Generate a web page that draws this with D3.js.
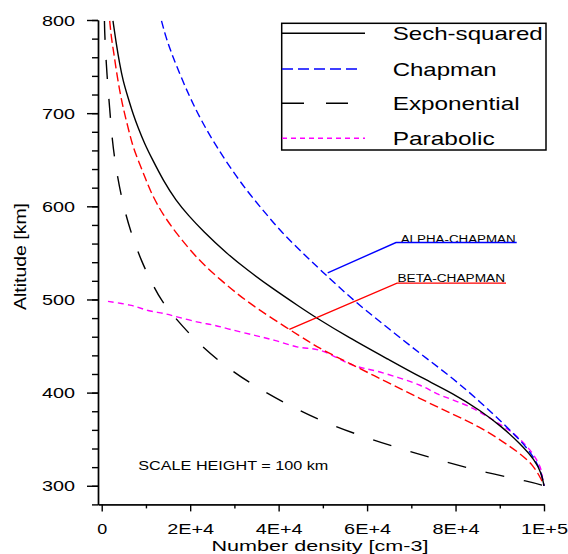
<!DOCTYPE html>
<html><head><meta charset="utf-8">
<script src="https://cdn.jsdelivr.net/npm/d3@7"></script>
<style>
body{margin:0;background:#fff}
svg{display:block}
text{font-family:"Liberation Sans",Arial,Helvetica,sans-serif;fill:#000}
</style>
</head><body>
<svg id="chart" width="568" height="554"></svg>
<script>
// ---- data: [number density (cm-3), altitude (km)] ----
const sechSquared = [[2550,799],[3300,774],[4070,752.6],[4820,734.6],[5950,716.7],[7080,699],[8210,684.6],[9720,666.8],[11370,651.1],[13930,627.5],[16800,606.1],[19630,590],[22790,573.9],[28330,549],[33080,531.1],[38280,512.9],[44850,491.8],[48230,481.1],[55690,459.6],[65180,434.7],[71970,416.8],[79500,399],[85530,381.1],[90510,363.2],[94580,345.4],[97970,327.5],[99440,313.3],[100000,300]];
const chapman = [[13520,799],[14430,782.9],[15560,767.3],[16750,752.6],[18950,727.5],[20640,710],[22950,688.3],[25620,666.8],[29010,641.8],[32780,616.8],[36540,595.4],[40310,574],[44840,552.5],[49580,531.1],[56890,499],[64440,470.4],[71970,441.9],[79500,415.1],[86000,388.3],[90740,366.9],[95040,347.1],[97700,331.1],[99480,313.3],[100000,300]];
const exponential = [[620,799],[680,783],[1200,739],[1810,705],[2330,672.5],[3230,640.4],[4590,606.1],[6510,572.9],[8890,541.8],[11600,515],[13480,499],[15900,484],[21100,456],[27650,429],[34890,406],[42120,387],[49360,370],[59080,352.5],[68800,338],[77400,326],[86890,314],[96940,304.3],[100000,300]];
const parabolic = [[1420,498],[6690,493.6],[10470,488.2],[14240,484.7],[17250,481.1],[21770,475.7],[25550,472.2],[29300,467.6],[34590,461.5],[39110,456.1],[44380,448.9],[49360,445.4],[56890,429.3],[62920,422.1],[71970,407.9],[75740,399],[83270,384.6],[88540,370.4],[93060,356.1],[96840,338.2],[99100,320.4],[99840,302.6],[100000,300]];
const betaChapman = [[1810,799],[2170,781.1],[2780,763.3],[3300,745.4],[4070,724],[4820,706.1],[5950,684.6],[7080,663.2],[8590,645.4],[10080,627.5],[11260,613.6],[13700,591.9],[17250,568.6],[22000,541.8],[26180,523.9],[30590,506.1],[34660,491.8],[42120,468.6],[46980,454.3],[49360,447.2],[56140,431.1],[64440,411.4],[71970,393.6],[78980,377.6],[85530,363.2],[90800,347.1],[94580,334.7],[97580,322.2],[99480,306.1],[100000,300]];

const xTicks = [0,20000,40000,60000,80000,100000];
const xTickLabels = ["0","2E+4","4E+4","6E+4","8E+4","1E+5"];
const xMinor = [10000,30000,50000,70000,90000];
const yTicks = [300,400,500,600,700,800];
const yMinor = d3.range(280,801,20);
const legendNames = ["Sech-squared","Chapman","Exponential","Parabolic"];

const svg = d3.select("#chart");
const x = d3.scaleLinear().domain([-840,100000]).range([98,544]);
const y = d3.scaleLinear().domain([280,800]).range([504.4,20]);

function stretch(sel, w){ sel.attr("textLength", w).attr("lengthAdjust","spacingAndGlyphs"); }

// ---- axes ----
const axisStroke = "#000";
svg.append("g").attr("transform","translate(98,0)")
  .call(d3.axisLeft(y).tickValues(yMinor).tickSize(6).tickSizeOuter(0).tickFormat(""))
  .call(g=>g.selectAll("line,path").attr("stroke",axisStroke).attr("stroke-width",1.4));
const gy = svg.append("g").attr("transform","translate(98,0)")
  .call(d3.axisLeft(y).tickValues(yTicks).tickSize(11).tickSizeOuter(0).tickPadding(12))
  .call(g=>g.selectAll("line,path").attr("stroke",axisStroke).attr("stroke-width",1.4));
gy.selectAll("text").attr("font-size",14).attr("font-family",null).attr("dy","0.36em").attr("fill","#000")
  .each(function(){ stretch(d3.select(this),33); });

svg.append("g").attr("transform","translate(0,504.4)")
  .call(d3.axisBottom(x).tickValues(xMinor).tickSize(4).tickSizeOuter(0).tickFormat(""))
  .call(g=>g.selectAll("line,path").attr("stroke",axisStroke).attr("stroke-width",1.4));
const gx = svg.append("g").attr("transform","translate(0,504.4)")
  .call(d3.axisBottom(x).tickValues(xTicks).tickSize(7).tickSizeOuter(0).tickPadding(12.2)
        .tickFormat((d,i)=>xTickLabels[i]))
  .call(g=>g.selectAll("line,path").attr("stroke",axisStroke).attr("stroke-width",1.4));
gx.selectAll("text").attr("font-size",14).attr("font-family",null).attr("fill","#000")
  .each(function(d,i){ stretch(d3.select(this), i===0?10:47); });

// axis titles
svg.append("text").attr("x",320).attr("y",550.5).attr("text-anchor","middle")
  .attr("font-size",15).text("Number density [cm-3]").call(stretch,217);
svg.append("text").attr("transform","translate(26,256.5) rotate(-90)").attr("text-anchor","middle")
  .attr("font-size",17).text("Altitude [km]").call(stretch,107);

// ---- curves ----
const smooth = d3.line().x(d=>x(d[0])).y(d=>y(d[1])).curve(d3.curveBasis);
const wiggly = d3.line().x(d=>x(d[0])).y(d=>y(d[1])).curve(d3.curveCatmullRom.alpha(0.5));
const series = [
  {data:exponential, color:"#000", dash:"19,20", gen:smooth},
  {data:parabolic, color:"#ff00ff", dash:"6,4", gen:wiggly},
  {data:betaChapman, color:"#ff0000", dash:"9,4", gen:smooth},
  {data:chapman, color:"#0000ff", dash:"8,4", gen:smooth},
  {data:sechSquared, color:"#000", dash:null, gen:smooth}
];
series.forEach(s=>{
  svg.append("path").attr("d",s.gen(s.data)).attr("fill","none")
    .attr("stroke",s.color).attr("stroke-width",1.4)
    .attr("stroke-dasharray",s.dash);
});

// ---- annotations ----
svg.append("text").attr("x",138.3).attr("y",470).attr("font-size",12)
  .attr("fill","#111").text("SCALE HEIGHT = 100 km").call(stretch,190);

const aEnd = [51100,528.6], aStart = [66540,561.1];
svg.append("text").attr("x",400.7).attr("y",242.5).attr("font-size",10).attr("fill","#222")
  .text("ALPHA-CHAPMAN").call(stretch,115);
svg.append("path").attr("d",d3.line()([[x(aEnd[0]),y(aEnd[1])],[x(aStart[0]),y(aStart[1])],[516.7,y(aStart[1])]]))
  .attr("fill","none").attr("stroke","#0000ff").attr("stroke-width",1.4);
const bEnd = [42420,467.9], bStart = [66770,517.5];
svg.append("text").attr("x",397.5).attr("y",281.5).attr("font-size",10).attr("fill","#222")
  .text("BETA-CHAPMAN").call(stretch,107.5);
svg.append("path").attr("d",d3.line()([[x(bEnd[0]),y(bEnd[1])],[x(bStart[0]),y(bStart[1])],[506,y(bStart[1])]]))
  .attr("fill","none").attr("stroke","#ff0000").attr("stroke-width",1.4);

// ---- legend ----
const lg = svg.append("g");
lg.append("rect").attr("x",281.7).attr("y",23.3).attr("width",264.3).attr("height",126.7)
  .attr("fill","#fff").attr("stroke","#000").attr("stroke-width",1.5);
const legendStyles = [
  {color:"#000", dash:null, x2:365},
  {color:"#0000ff", dash:"11,5", x2:358},
  {color:"#000", dash:"22,22", x2:349},
  {color:"#ff00ff", dash:"5,4", x2:365}
];
const rowY = [33.3,69,103.3,138.3];
const textW = [150,104,127,102];
legendNames.forEach((name,i)=>{
  lg.append("line").attr("x1",282).attr("x2",legendStyles[i].x2).attr("y1",rowY[i]).attr("y2",rowY[i])
    .attr("stroke",legendStyles[i].color).attr("stroke-width",1.5).attr("stroke-dasharray",legendStyles[i].dash);
  lg.append("text").attr("x",392.7).attr("y",rowY[i]+7).attr("font-size",18.5).text(name).call(stretch,textW[i]);
});
</script>
</body></html>
